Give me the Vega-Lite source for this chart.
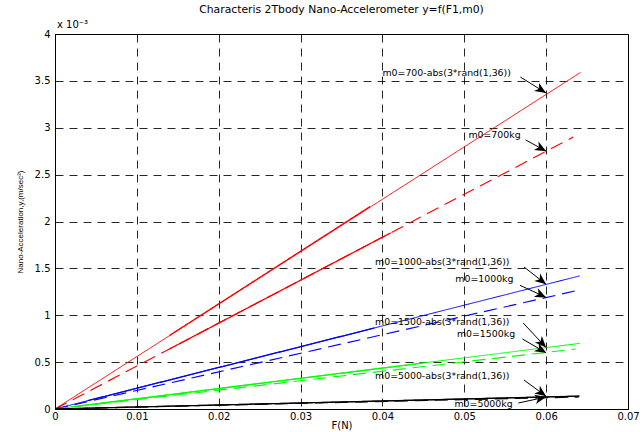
{
  "$schema": "https://vega.github.io/schema/vega-lite/v6.json",
  "autosize": "none",
  "width": 573,
  "height": 375,
  "padding": {"left": 55, "top": 34, "right": 16, "bottom": 23},
  "background": "white",
  "config": {
    "font": "DejaVu Sans",
    "view": {"stroke": "#000", "strokeWidth": 1},
    "axis": {
      "labelFont": "DejaVu Sans",
      "titleFont": "DejaVu Sans",
      "labelColor": "#000",
      "titleColor": "#000",
      "titleFontWeight": "normal",
      "labelFontSize": 10,
      "domainColor": "#000",
      "ticks": false,
      "grid": true,
      "gridColor": "#000",
      "gridOpacity": 0.85,
      "gridDash": [8, 6],
      "gridWidth": 1
    },
    "title": {"font": "DejaVu Sans", "fontSize": 10.8, "fontWeight": "normal", "color": "#000", "anchor": "middle", "offset": 5}
  },
  "title": "Characteris 2Tbody Nano-Accelerometer y=f(F1,m0)",
  "datasets": {
    "lines": [
      {"line": "r-rand", "mass": "700", "kind": "random", "F": 0, "a": 0},
      {"line": "r-rand", "mass": "700", "kind": "random", "F": 0.0642, "a": 3.59},
      {"line": "r-fix", "mass": "700", "kind": "fixed", "F": 0.0, "a": 0.0},
      {"line": "r-fix", "mass": "700", "kind": "fixed", "F": 0.0633, "a": 2.90},
      {"line": "r-dense1", "mass": "700", "kind": "dense", "F": 0.014, "a": 0.785},
      {"line": "r-dense1", "mass": "700", "kind": "dense", "F": 0.0385, "a": 2.16},
      {"line": "r-dense2", "mass": "700", "kind": "dense", "F": 0.014, "a": 0.641},
      {"line": "r-dense2", "mass": "700", "kind": "dense", "F": 0.041, "a": 1.878},
      {"line": "b-rand", "mass": "1000", "kind": "random", "F": 0, "a": 0},
      {"line": "b-rand", "mass": "1000", "kind": "random", "F": 0.0641, "a": 1.42},
      {"line": "b-fix", "mass": "1000", "kind": "fixed", "F": 0, "a": 0},
      {"line": "b-fix", "mass": "1000", "kind": "fixed", "F": 0.0641, "a": 1.27},
      {"line": "b-dense", "mass": "1000", "kind": "dense", "F": 0.004, "a": 0.0886},
      {"line": "b-dense", "mass": "1000", "kind": "dense", "F": 0.039, "a": 0.864},
      {"line": "g-rand", "mass": "1500", "kind": "random", "F": 0, "a": 0},
      {"line": "g-rand", "mass": "1500", "kind": "random", "F": 0.0641, "a": 0.70},
      {"line": "g-fix", "mass": "1500", "kind": "fixed", "F": 0, "a": 0},
      {"line": "g-fix", "mass": "1500", "kind": "fixed", "F": 0.0636, "a": 0.64},
      {"line": "g-dense", "mass": "1500", "kind": "dense", "F": 0.002, "a": 0.0218},
      {"line": "g-dense", "mass": "1500", "kind": "dense", "F": 0.045, "a": 0.491},
      {"line": "k-rand", "mass": "5000", "kind": "random", "F": 0, "a": 0},
      {"line": "k-rand", "mass": "5000", "kind": "random", "F": 0.0641, "a": 0.139},
      {"line": "k-fix", "mass": "5000", "kind": "fixed", "F": 0, "a": 0},
      {"line": "k-fix", "mass": "5000", "kind": "fixed", "F": 0.064, "a": 0.128},
      {"line": "k-dense", "mass": "5000", "kind": "dense", "F": 0, "a": 0},
      {"line": "k-dense", "mass": "5000", "kind": "dense", "F": 0.064, "a": 0.136}
    ],
    "notes": [
      {"label": "m0=700-abs(3*rand(1,36))", "tx": 0.0400, "ty": 3.584, "x1": 0.05685, "y1": 3.541, "x2": 0.06, "y2": 3.37},
      {"label": "m0=700kg", "tx": 0.0505, "ty": 2.923, "x1": 0.0575, "y1": 2.87, "x2": 0.06, "y2": 2.75},
      {"label": "m0=1000-abs(3*rand(1,36))", "tx": 0.0391, "ty": 1.568, "x1": 0.0573, "y1": 1.515, "x2": 0.06, "y2": 1.33},
      {"label": "m0=1000kg", "tx": 0.0489, "ty": 1.387, "x1": 0.0568, "y1": 1.32, "x2": 0.06, "y2": 1.19},
      {"label": "m0=1500-abs(3*rand(1,36))", "tx": 0.0391, "ty": 0.928, "x1": 0.0572, "y1": 0.917, "x2": 0.06, "y2": 0.655},
      {"label": "m0=1500kg", "tx": 0.0491, "ty": 0.80, "x1": 0.0571, "y1": 0.747, "x2": 0.06, "y2": 0.60},
      {"label": "m0=5000-abs(3*rand(1,36))", "tx": 0.0391, "ty": 0.352, "x1": 0.0573, "y1": 0.309, "x2": 0.06, "y2": 0.135},
      {"label": "m0=5000kg", "tx": 0.0488, "ty": 0.053, "x1": 0.0566, "y1": 0.064, "x2": 0.06, "y2": 0.128}
    ],
    "exponent": [{"F": 0, "a": 4, "label": "x 10⁻³"}]
  },
  "layer": [
    {
      "data": {"name": "lines"},
      "mark": {"type": "line", "clip": true},
      "encoding": {
        "x": {"field": "F", "type": "quantitative", "scale": {"domain": [0, 0.07], "nice": false},
              "axis": {"values": [0, 0.01, 0.02, 0.03, 0.04, 0.05, 0.06, 0.07], "format": "~g", "title": "F(N)", "titleFontSize": 10, "labelPadding": 2, "titlePadding": -1, "labelFlush": false}},
        "y": {"field": "a", "type": "quantitative", "scale": {"domain": [0, 4], "nice": false},
              "axis": {"values": [0, 0.5, 1, 1.5, 2, 2.5, 3, 3.5, 4], "format": "~g", "title": "Nano-Acceleration,y,(m/sec²)", "titleFont": "Liberation Sans", "titleFontSize": 8, "labelPadding": 5, "titlePadding": 10, "labelFlush": false}},
        "color": {"field": "mass", "type": "nominal", "scale": {"domain": ["700", "1000", "1500", "5000"], "range": ["#ff0000", "#0000ff", "#00ff00", "#000000"]}, "legend": null},
        "strokeDash": {"field": "kind", "type": "nominal", "scale": {"domain": ["random", "fixed", "dense"], "range": [[1, 0], [13, 7], [1, 0]]}, "legend": null},
        "strokeWidth": {"field": "kind", "type": "nominal", "scale": {"domain": ["random", "fixed", "dense"], "range": [1, 1.3, 2.2]}, "legend": null},
        "detail": {"field": "line"}
      }
    },
    {
      "data": {"name": "notes"},
      "mark": {"type": "text", "align": "left", "baseline": "middle", "fontSize": 9.4, "font": "DejaVu Sans", "color": "#000"},
      "encoding": {
        "x": {"field": "tx", "type": "quantitative"},
        "y": {"field": "ty", "type": "quantitative"},
        "text": {"field": "label"}
      }
    },
    {
      "data": {"name": "notes"},
      "mark": {"type": "rule", "color": "#000", "strokeWidth": 1},
      "encoding": {
        "x": {"field": "x1", "type": "quantitative"},
        "y": {"field": "y1", "type": "quantitative"},
        "x2": {"field": "x2"},
        "y2": {"field": "y2"}
      }
    },
    {
      "data": {"name": "notes"},
      "transform": [
        {"calculate": "atan2(-(datum.y2 - datum.y1) * 93.75, (datum.x2 - datum.x1) * 8186) * 180 / PI", "as": "ang"}
      ],
      "mark": {"type": "point", "shape": "M0,0L-1,-0.42L-0.72,0L-1,0.42Z", "filled": true, "color": "#000", "size": 520, "opacity": 1},
      "encoding": {
        "x": {"field": "x2", "type": "quantitative"},
        "y": {"field": "y2", "type": "quantitative"},
        "angle": {"field": "ang", "type": "quantitative", "scale": null}
      }
    },
    {
      "data": {"name": "exponent"},
      "mark": {"type": "text", "align": "left", "baseline": "middle", "fontSize": 10, "dx": 2, "dy": -9, "font": "DejaVu Sans", "color": "#000"},
      "encoding": {
        "x": {"field": "F", "type": "quantitative"},
        "y": {"field": "a", "type": "quantitative"},
        "text": {"field": "label"}
      }
    }
  ]
}
